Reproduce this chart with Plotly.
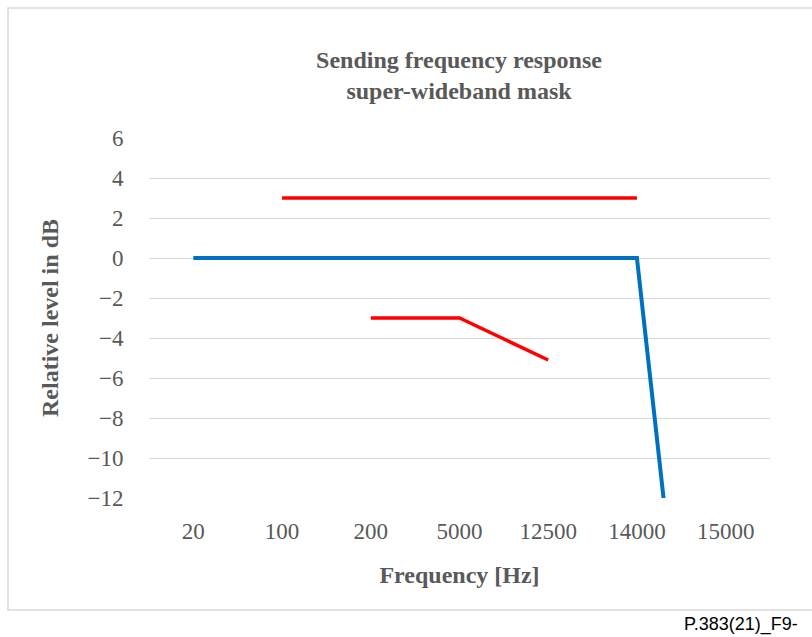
import plotly.graph_objects as go

# Frequency points (categorical axis) and mask levels in dB
frequencies = ["20", "100", "200", "5000", "12500", "14000", "15000"]
nominal_response = [0, 0, 0, 0, 0, 0, -40]
upper_limit = [None, 3, 3, 3, 3, 3, None]
lower_limit = [None, None, -3, -3, -5.1, None, None]

y_ticks = [6, 4, 2, 0, -2, -4, -6, -8, -10, -12]
y_tick_text = [str(v).replace("-", "\u2212") for v in y_ticks]

GREY_TEXT = "#595959"
SERIF = "Liberation Serif, Times New Roman, serif"

fig = go.Figure()
fig.add_trace(go.Scatter(
    x=frequencies, y=nominal_response, mode="lines",
    line=dict(color="#0070C0", width=4), cliponaxis=True,
    connectgaps=False, showlegend=False, hoverinfo="skip"))
fig.add_trace(go.Scatter(
    x=frequencies, y=upper_limit, mode="lines",
    line=dict(color="#FF0000", width=3.5),
    connectgaps=False, showlegend=False, hoverinfo="skip"))
fig.add_trace(go.Scatter(
    x=frequencies, y=lower_limit, mode="lines",
    line=dict(color="#FF0000", width=3.5),
    connectgaps=False, showlegend=False, hoverinfo="skip"))

fig.update_layout(
    width=812, height=637,
    margin=dict(l=149, r=42, t=138, b=139),
    paper_bgcolor="white", plot_bgcolor="white",
    font=dict(family=SERIF, color=GREY_TEXT),
    title=dict(
        text="<b>Sending frequency response<br>super-wideband mask</b>",
        x=(459 / 812), xanchor="center", y=1 - 68 / 637, yanchor="top",
        font=dict(family=SERIF, size=24, color=GREY_TEXT)),
    xaxis=dict(
        type="category", categoryorder="array", categoryarray=frequencies,
        range=[-0.5, 6.5], showgrid=False, zeroline=False, showline=False,
        ticks="outside", ticklen=12, tickcolor="rgba(0,0,0,0)",
        tickfont=dict(family=SERIF, size=23, color=GREY_TEXT),
        title=dict(text="<b>Frequency [Hz]</b>", standoff=23,
                   font=dict(family=SERIF, size=24, color=GREY_TEXT)),
        fixedrange=True),
    yaxis=dict(
        range=[-12, 6], tickvals=y_ticks, ticktext=y_tick_text,
        showgrid=True, gridcolor="#D9D9D9", gridwidth=1,
        zeroline=False, showline=False,
        ticks="outside", ticklen=20, tickcolor="rgba(0,0,0,0)",
        tickfont=dict(family=SERIF, size=23, color=GREY_TEXT),
        title=dict(text="<b>Relative level in dB</b>", standoff=22,
                   font=dict(family=SERIF, size=24, color=GREY_TEXT)),
        fixedrange=True),
    shapes=[dict(
        type="rect", xref="paper", yref="paper",
        x0=(8 - 149) / 621, x1=(830 - 149) / 621,
        y0=(498 - 610) / 360, y1=(498 - 8) / 360,
        line=dict(color="#D9D9D9", width=1.5), fillcolor="rgba(0,0,0,0)",
        layer="below")],
    annotations=[dict(
        text="P.383(21)_F9-", xref="paper", yref="paper",
        x=(682 - 149) / 621, y=(498 - 624) / 360,
        xanchor="left", yanchor="middle", showarrow=False,
        font=dict(family="Liberation Sans, Arial, sans-serif", size=18,
                  color="#000000"))],
)

fig.write_html("out.html")
